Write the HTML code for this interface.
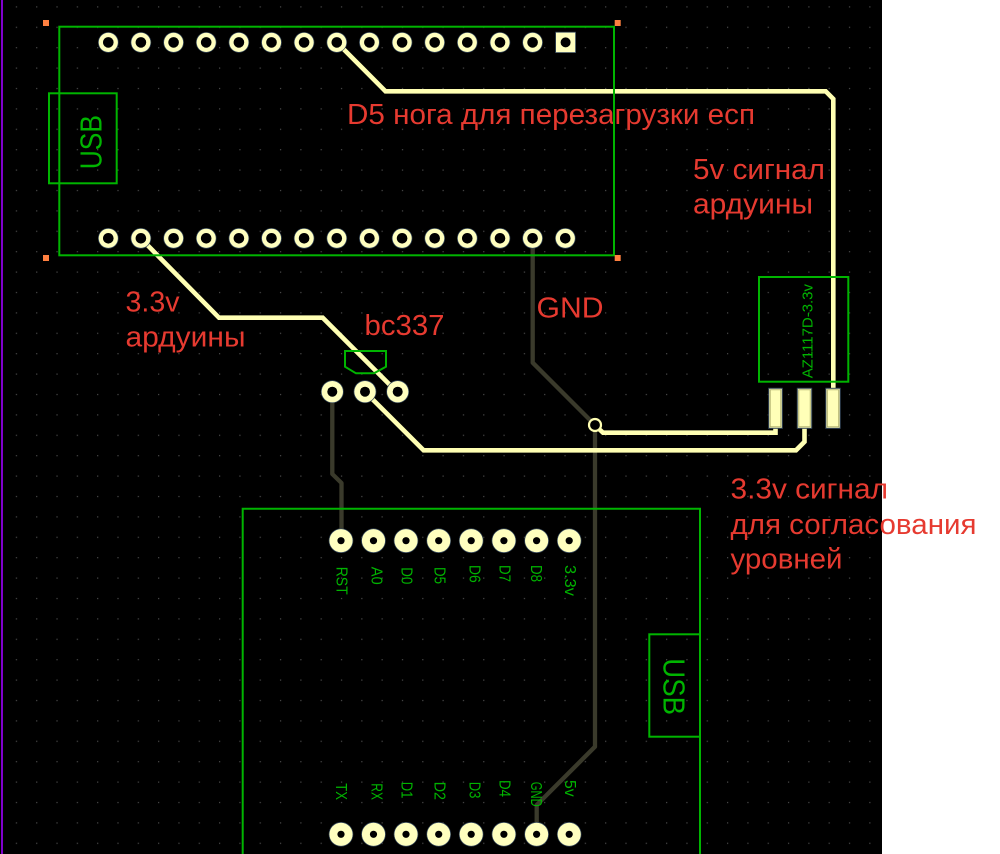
<!DOCTYPE html>
<html><head><meta charset="utf-8"><style>
html,body{margin:0;padding:0;background:#fff;width:1000px;height:854px;overflow:hidden;}
svg{display:block;}
.r{font-family:"Liberation Sans","Noto Sans CJK SC",sans-serif;font-size:29px;fill:#e63a30;}
.g{font-family:"Liberation Sans",sans-serif;fill:#00b400;}
</style></head><body>
<svg width="1000" height="854" viewBox="0 0 1000 854" xmlns="http://www.w3.org/2000/svg" overflow="hidden">
<defs>
<pattern id="grid" patternUnits="userSpaceOnUse" x="15.8" y="6.3" width="20.32" height="20.4">
<rect x="0" y="0" width="1.2" height="1.2" fill="#4c4c4c"/>
</pattern>
<g id="pinA"><circle r="10.3" fill="#34465a"/><circle r="9.6" fill="#ffffbf"/><circle r="5.3" fill="#000"/></g>
<g id="pinT"><circle r="11.4" fill="#34465a"/><circle r="10.7" fill="#ffffbf"/><circle r="5" fill="#000"/></g>
<g id="pinE"><circle r="12.3" fill="#34465a"/><circle r="11.6" fill="#ffffbf"/><circle r="3.6" fill="#000"/></g>
</defs>
<rect x="0" y="0" width="1000" height="854" fill="#fff"/>
<rect x="0" y="0" width="882" height="854" fill="#000"/>
<rect x="0" y="0" width="882" height="854" fill="url(#grid)"/>
<rect x="1" y="0" width="2" height="854" fill="#8000cc"/>

<!-- dark traces -->
<g fill="none" stroke="#3a3a2b" stroke-width="4.3" stroke-linejoin="round">
<path d="M532.7,238.3 L532.7,362.7 L595,425 L595,746.7 L536.7,805 L536.7,834"/>
<path d="M332.3,391.7 L332.3,474 L341.5,483 L341.5,540.7"/>
</g>

<!-- yellow traces -->
<g fill="none" stroke="#ffffb3" stroke-width="4.6" stroke-linejoin="miter">
<path d="M336.7,42.3 L385.5,91.3 L825.7,91.3 L833.3,99 L833.3,410"/>
<path d="M140.7,238.3 L219,317.7 L322.7,317.7 L397.7,392.7"/>
<path d="M365,391.7 L423.6,450.3 L796,450.3 L804.5,441.8 L804.5,410"/>
<path d="M598,428 L603,432.7 L775.5,432.7 L775.5,410"/>
</g>
<!-- via -->
<circle cx="595" cy="425" r="6" fill="#000" stroke="#ffffb3" stroke-width="2.2"/>

<!-- top arduino pins -->
<g>
<use href="#pinA" x="108.3" y="42.4"/><use href="#pinA" x="140.9" y="42.4"/><use href="#pinA" x="173.6" y="42.4"/><use href="#pinA" x="206.2" y="42.4"/><use href="#pinA" x="238.9" y="42.4"/><use href="#pinA" x="271.5" y="42.4"/><use href="#pinA" x="304.1" y="42.4"/><use href="#pinA" x="336.8" y="42.4"/><use href="#pinA" x="369.4" y="42.4"/><use href="#pinA" x="402.1" y="42.4"/><use href="#pinA" x="434.7" y="42.4"/><use href="#pinA" x="467.3" y="42.4"/><use href="#pinA" x="500" y="42.4"/><use href="#pinA" x="532.6" y="42.4"/>
<rect x="555.6" y="32.2" width="20" height="20.4" fill="#ffffbf" stroke="#34465a" stroke-width="0.8"/>
<circle cx="565.6" cy="42.4" r="5" fill="#000"/>
<use href="#pinA" x="108.3" y="238.3"/><use href="#pinA" x="140.9" y="238.3"/><use href="#pinA" x="173.6" y="238.3"/><use href="#pinA" x="206.2" y="238.3"/><use href="#pinA" x="238.9" y="238.3"/><use href="#pinA" x="271.5" y="238.3"/><use href="#pinA" x="304.1" y="238.3"/><use href="#pinA" x="336.8" y="238.3"/><use href="#pinA" x="369.4" y="238.3"/><use href="#pinA" x="402.1" y="238.3"/><use href="#pinA" x="434.7" y="238.3"/><use href="#pinA" x="467.3" y="238.3"/><use href="#pinA" x="500" y="238.3"/><use href="#pinA" x="532.6" y="238.3"/><use href="#pinA" x="565.3" y="238.3"/>
</g>

<!-- transistor pins -->
<use href="#pinT" x="332.3" y="391.7"/><use href="#pinT" x="365" y="391.7"/><use href="#pinT" x="397.7" y="391.7"/>

<!-- regulator pads -->
<g fill="#ffffb8" stroke="#34465a" stroke-width="1">
<rect x="768.7" y="388.3" width="13.6" height="40"/>
<rect x="797.3" y="388.3" width="14.4" height="40"/>
<rect x="825.8" y="388.3" width="14.4" height="40"/>
</g>
<g fill="none" stroke="#a8a868" stroke-width="0.8">
<rect x="770.2" y="389.8" width="10.6" height="37"/>
<rect x="798.8" y="389.8" width="11.4" height="37"/>
<rect x="827.3" y="389.8" width="11.4" height="37"/>
</g>

<!-- esp pins -->
<use href="#pinE" x="341" y="540.7"/><use href="#pinE" x="373.5" y="540.7"/><use href="#pinE" x="406" y="540.7"/><use href="#pinE" x="438.7" y="540.7"/><use href="#pinE" x="471.2" y="540.7"/><use href="#pinE" x="503.9" y="540.7"/><use href="#pinE" x="536.6" y="540.7"/><use href="#pinE" x="569.2" y="540.7"/>
<g>
<circle cx="341" cy="834.3" r="12.3" fill="#34465a"/><circle cx="341" cy="834.3" r="11.6" fill="#ffffbf"/><circle cx="341" cy="834.3" r="3.6" fill="#000"/>
<circle cx="373.5" cy="834.3" r="12.3" fill="#34465a"/><circle cx="373.5" cy="834.3" r="11.6" fill="#ffffbf"/><circle cx="373.5" cy="834.3" r="3.6" fill="#000"/>
<circle cx="406" cy="834.3" r="12.3" fill="#34465a"/><circle cx="406" cy="834.3" r="11.6" fill="#ffffbf"/><circle cx="406" cy="834.3" r="3.6" fill="#000"/>
<circle cx="438.7" cy="834.3" r="12.3" fill="#34465a"/><circle cx="438.7" cy="834.3" r="11.6" fill="#ffffbf"/><circle cx="438.7" cy="834.3" r="3.6" fill="#000"/>
<circle cx="471.2" cy="834.3" r="12.3" fill="#34465a"/><circle cx="471.2" cy="834.3" r="11.6" fill="#ffffbf"/><circle cx="471.2" cy="834.3" r="3.6" fill="#000"/>
<circle cx="503.9" cy="834.3" r="12.3" fill="#34465a"/><circle cx="503.9" cy="834.3" r="11.6" fill="#ffffbf"/><circle cx="503.9" cy="834.3" r="3.6" fill="#000"/>
<circle cx="536.6" cy="834.3" r="12.3" fill="#34465a"/><circle cx="536.6" cy="834.3" r="11.6" fill="#ffffbf"/><circle cx="536.6" cy="834.3" r="3.6" fill="#000"/>
<circle cx="569.2" cy="834.3" r="12.3" fill="#34465a"/><circle cx="569.2" cy="834.3" r="11.6" fill="#ffffbf"/><circle cx="569.2" cy="834.3" r="3.6" fill="#000"/>
</g>

<!-- red labels -->
<text class="r" x="347" y="124" textLength="408" lengthAdjust="spacingAndGlyphs">D5 нога для перезагрузки есп</text>
<text class="r" x="693" y="179" textLength="132" lengthAdjust="spacingAndGlyphs">5v сигнал</text>
<text class="r" x="693" y="213.5" textLength="120" lengthAdjust="spacingAndGlyphs">ардуины</text>
<text class="r" x="125.5" y="311.7" textLength="54" lengthAdjust="spacingAndGlyphs">3.3v</text>
<text class="r" x="125.5" y="346.7" textLength="120" lengthAdjust="spacingAndGlyphs">ардуины</text>
<text class="r" x="364.5" y="335" textLength="80" lengthAdjust="spacingAndGlyphs">bc337</text>
<text class="r" x="536.5" y="317.3" textLength="67" lengthAdjust="spacingAndGlyphs">GND</text>
<text class="r" x="730.5" y="498.3" textLength="157.5" lengthAdjust="spacingAndGlyphs">3.3v сигнал</text>
<text class="r" x="730.5" y="534" textLength="246" lengthAdjust="spacingAndGlyphs">для согласования</text>
<text class="r" x="730.5" y="568.3" textLength="112" lengthAdjust="spacingAndGlyphs">уровней</text>

<!-- green silkscreen -->
<g fill="none" stroke="#00b400" stroke-width="2">
<rect x="59.3" y="26.7" width="554.7" height="228.6"/>
<rect x="49" y="93.3" width="67.7" height="90"/>
<polygon points="345,351 386,351 386,366.7 374,373.3 356,373.3 345,366.7"/>
<rect x="759" y="277" width="89.3" height="104.7"/>
<path d="M242.7,854 L242.7,508.7 L700,508.7 L700,854"/>
<rect x="649.3" y="634.3" width="50.7" height="102.4"/>
</g>
<g class="g">
<text font-size="31" transform="translate(101.7,169.3) rotate(-90)" textLength="54.3" lengthAdjust="spacingAndGlyphs">USB</text>
<text font-size="31" transform="translate(663.3,658.3) rotate(90)" textLength="56.7" lengthAdjust="spacingAndGlyphs">USB</text>
<text font-size="15" transform="translate(812.7,378.3) rotate(-90)" textLength="94.3" lengthAdjust="spacingAndGlyphs">AZ1117D-3.3v</text>
</g>
<g class="g" font-size="16">
<text transform="translate(336.7,566.7) rotate(90)" textLength="28" lengthAdjust="spacingAndGlyphs">RST</text>
<text transform="translate(371.7,566.7) rotate(90)" textLength="18" lengthAdjust="spacingAndGlyphs">A0</text>
<text transform="translate(401.7,567.3) rotate(90)" textLength="17" lengthAdjust="spacingAndGlyphs">D0</text>
<text transform="translate(434.3,567) rotate(90)" textLength="17" lengthAdjust="spacingAndGlyphs">D5</text>
<text transform="translate(469.3,565) rotate(90)" textLength="17.7" lengthAdjust="spacingAndGlyphs">D6</text>
<text transform="translate(499.3,565) rotate(90)" textLength="17" lengthAdjust="spacingAndGlyphs">D7</text>
<text transform="translate(531,565) rotate(90)" textLength="17" lengthAdjust="spacingAndGlyphs">D8</text>
<text transform="translate(565,565) rotate(90)" textLength="31" lengthAdjust="spacingAndGlyphs">3.3v</text>

<text transform="translate(336,783.3) rotate(90)" textLength="16.7" lengthAdjust="spacingAndGlyphs">TX</text>
<text transform="translate(371.7,783.3) rotate(90)" textLength="16.7" lengthAdjust="spacingAndGlyphs">RX</text>
<text transform="translate(401.7,781.7) rotate(90)" textLength="16.7" lengthAdjust="spacingAndGlyphs">D1</text>
<text transform="translate(434.3,781.7) rotate(90)" textLength="18.3" lengthAdjust="spacingAndGlyphs">D2</text>
<text transform="translate(469.3,781.7) rotate(90)" textLength="16.7" lengthAdjust="spacingAndGlyphs">D3</text>
<text transform="translate(499.3,780) rotate(90)" textLength="17" lengthAdjust="spacingAndGlyphs">D4</text>
<text transform="translate(531,781.7) rotate(90)" textLength="25" lengthAdjust="spacingAndGlyphs">GND</text>
<text transform="translate(565,780) rotate(90)" textLength="16.7" lengthAdjust="spacingAndGlyphs">5v</text>
</g>

<!-- corner markers -->
<g fill="#ff8040">
<rect x="43" y="20" width="6" height="6"/>
<rect x="43" y="255" width="6" height="6"/>
<rect x="614.7" y="20" width="6" height="6"/>
<rect x="614.7" y="255" width="6" height="6"/>
</g>
</svg>
</body></html>
